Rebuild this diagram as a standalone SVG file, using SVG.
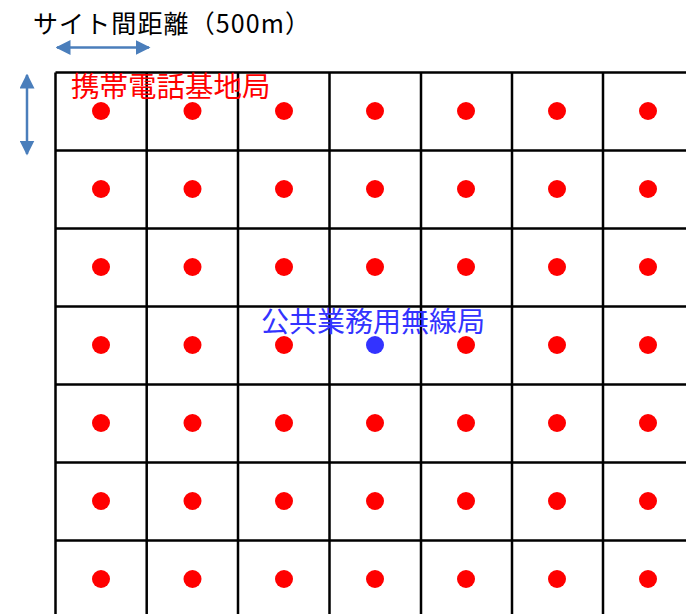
<svg xmlns="http://www.w3.org/2000/svg" width="686" height="614" viewBox="0 0 686 614">
<style>
.g{stroke:#000;stroke-width:2.5;fill:none}
.r{fill:#FF0000}
.b{fill:#3333FF}
.t{font-family:"Noto Sans CJK JP","Noto Sans",sans-serif}
.ar{stroke:#4A7EBB;stroke-width:2.5;fill:none}
</style>
<defs>
<marker id="ah" viewBox="0 0 10 10" refX="9" refY="5" markerWidth="15" markerHeight="15" markerUnits="userSpaceOnUse" orient="auto-start-reverse">
<path d="M0,0 L10,5 L0,10 z" fill="#4A7EBB"/>
</marker>
</defs>
<rect width="686" height="614" fill="#fff"/>
<g id="grid" class="g">
<path d="M55.5,72.5V614M146.7,72.5V614M238,72.5V614M329.5,72.5V614M421,72.5V614M512,72.5V614M603,72.5V614"/>
<path d="M55.5,72.5H686M55.5,150.5H686M55.5,228.5H686M55.5,306.5H686M55.5,384.5H686M55.5,462.5H686M55.5,540.5H686"/>
</g>
<g id="connectors">
<line class="ar" x1="57" y1="47.5" x2="149" y2="47.5" marker-start="url(#ah)" marker-end="url(#ah)"/>
<line class="ar" x1="27" y1="75" x2="27" y2="154" marker-start="url(#ah)" marker-end="url(#ah)"/>
</g>
<g id="dots" class="r">
<circle cx="101" cy="111" r="9"/><circle cx="192.5" cy="111" r="9"/><circle cx="284" cy="111" r="9"/><circle cx="375" cy="111" r="9"/><circle cx="466" cy="111" r="9"/><circle cx="557" cy="111" r="9"/><circle cx="648" cy="111" r="9"/>
<circle cx="101" cy="189" r="9"/><circle cx="192.5" cy="189" r="9"/><circle cx="284" cy="189" r="9"/><circle cx="375" cy="189" r="9"/><circle cx="466" cy="189" r="9"/><circle cx="557" cy="189" r="9"/><circle cx="648" cy="189" r="9"/>
<circle cx="101" cy="267" r="9"/><circle cx="192.5" cy="267" r="9"/><circle cx="284" cy="267" r="9"/><circle cx="375" cy="267" r="9"/><circle cx="466" cy="267" r="9"/><circle cx="557" cy="267" r="9"/><circle cx="648" cy="267" r="9"/>
<circle cx="101" cy="345" r="9"/><circle cx="192.5" cy="345" r="9"/><circle cx="284" cy="345" r="9"/><circle cx="466" cy="345" r="9"/><circle cx="557" cy="345" r="9"/><circle cx="648" cy="345" r="9"/>
<circle cx="101" cy="423" r="9"/><circle cx="192.5" cy="423" r="9"/><circle cx="284" cy="423" r="9"/><circle cx="375" cy="423" r="9"/><circle cx="466" cy="423" r="9"/><circle cx="557" cy="423" r="9"/><circle cx="648" cy="423" r="9"/>
<circle cx="101" cy="501" r="9"/><circle cx="192.5" cy="501" r="9"/><circle cx="284" cy="501" r="9"/><circle cx="375" cy="501" r="9"/><circle cx="466" cy="501" r="9"/><circle cx="557" cy="501" r="9"/><circle cx="648" cy="501" r="9"/>
<circle cx="101" cy="579" r="9"/><circle cx="192.5" cy="579" r="9"/><circle cx="284" cy="579" r="9"/><circle cx="375" cy="579" r="9"/><circle cx="466" cy="579" r="9"/><circle cx="557" cy="579" r="9"/><circle cx="648" cy="579" r="9"/>
</g>
<g id="public-station">
<circle class="b" cx="375" cy="345" r="9"/>
<text class="t" x="261" y="332" font-size="28" fill="#3333FF">公共業務用無線局</text>
</g>
<g id="base-station-label">
<text class="t" x="71" y="97" font-size="28.5" fill="#FF0000">携帯電話基地局</text>
</g>
<g id="site-distance-label">
<text class="t" x="33" y="33" font-size="25" fill="#000" textLength="277" lengthAdjust="spacing">サイト間距離（500m）</text>
</g>
</svg>
